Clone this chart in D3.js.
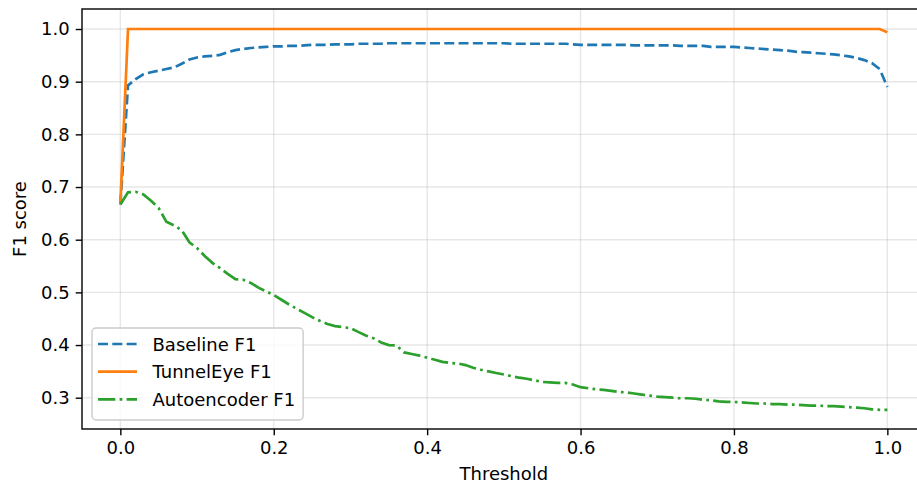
<!DOCTYPE html>
<html>
<head>
<meta charset="utf-8">
<script src="https://cdn.jsdelivr.net/npm/d3@7"></script>
<style>
  body { margin: 0; background: #fff; }
  svg { display: block; font-family: "DejaVu Sans", sans-serif; }
</style>
</head>
<body>
<div id="chart"></div>
<script>
// thresholds 0.00 .. 1.00
var thresholds = [
  0.00, 0.01, 0.02, 0.03, 0.04, 0.05, 0.06, 0.07, 0.08, 0.09,
  0.10, 0.11, 0.12, 0.13, 0.14, 0.15, 0.16, 0.17, 0.18, 0.19,
  0.20, 0.21, 0.22, 0.23, 0.24, 0.25, 0.26, 0.27, 0.28, 0.29,
  0.30, 0.31, 0.32, 0.33, 0.34, 0.35, 0.36, 0.37, 0.38, 0.39,
  0.40, 0.41, 0.42, 0.43, 0.44, 0.45, 0.46, 0.47, 0.48, 0.49,
  0.50, 0.51, 0.52, 0.53, 0.54, 0.55, 0.56, 0.57, 0.58, 0.59,
  0.60, 0.61, 0.62, 0.63, 0.64, 0.65, 0.66, 0.67, 0.68, 0.69,
  0.70, 0.71, 0.72, 0.73, 0.74, 0.75, 0.76, 0.77, 0.78, 0.79,
  0.80, 0.81, 0.82, 0.83, 0.84, 0.85, 0.86, 0.87, 0.88, 0.89,
  0.90, 0.91, 0.92, 0.93, 0.94, 0.95, 0.96, 0.97, 0.98, 0.99,
  1.00
];

var baselineF1 = [
  0.667, 0.893, 0.905, 0.914, 0.918, 0.921, 0.924, 0.927, 0.934, 0.942,
  0.946, 0.948, 0.949, 0.951, 0.956, 0.960, 0.962, 0.964, 0.965, 0.966,
  0.967, 0.967, 0.968, 0.968, 0.969, 0.970, 0.970, 0.970, 0.971, 0.971,
  0.971, 0.972, 0.972, 0.972, 0.972, 0.973, 0.973, 0.973, 0.973, 0.973,
  0.973, 0.973, 0.973, 0.973, 0.973, 0.973, 0.973, 0.973, 0.973, 0.973,
  0.973, 0.972, 0.972, 0.972, 0.972, 0.972, 0.972, 0.972, 0.972, 0.971,
  0.970, 0.970, 0.970, 0.970, 0.970, 0.970, 0.970, 0.969, 0.969, 0.969,
  0.969, 0.969, 0.969, 0.968, 0.968, 0.968, 0.968, 0.966, 0.966, 0.966,
  0.966, 0.965, 0.964, 0.963, 0.962, 0.961, 0.960, 0.959, 0.957, 0.956,
  0.955, 0.954, 0.953, 0.952, 0.950, 0.948, 0.945, 0.941, 0.935, 0.924,
  0.890
];

var tunnelEyeF1 = [
  0.667, 1.000, 1.000, 1.000, 1.000, 1.000, 1.000, 1.000, 1.000, 1.000,
  1.000, 1.000, 1.000, 1.000, 1.000, 1.000, 1.000, 1.000, 1.000, 1.000,
  1.000, 1.000, 1.000, 1.000, 1.000, 1.000, 1.000, 1.000, 1.000, 1.000,
  1.000, 1.000, 1.000, 1.000, 1.000, 1.000, 1.000, 1.000, 1.000, 1.000,
  1.000, 1.000, 1.000, 1.000, 1.000, 1.000, 1.000, 1.000, 1.000, 1.000,
  1.000, 1.000, 1.000, 1.000, 1.000, 1.000, 1.000, 1.000, 1.000, 1.000,
  1.000, 1.000, 1.000, 1.000, 1.000, 1.000, 1.000, 1.000, 1.000, 1.000,
  1.000, 1.000, 1.000, 1.000, 1.000, 1.000, 1.000, 1.000, 1.000, 1.000,
  1.000, 1.000, 1.000, 1.000, 1.000, 1.000, 1.000, 1.000, 1.000, 1.000,
  1.000, 1.000, 1.000, 1.000, 1.000, 1.000, 1.000, 1.000, 1.000, 1.000,
  0.994
];

var autoencoderF1 = [
  0.667, 0.690, 0.691, 0.686, 0.674, 0.660, 0.634, 0.627, 0.618, 0.595,
  0.584, 0.569, 0.556, 0.546, 0.535, 0.525, 0.524, 0.518, 0.509, 0.502,
  0.495, 0.486, 0.477, 0.469, 0.461, 0.453, 0.446, 0.440, 0.436, 0.434,
  0.432, 0.425, 0.418, 0.413, 0.405, 0.400, 0.399, 0.386, 0.383, 0.380,
  0.376, 0.372, 0.368, 0.366, 0.365, 0.362, 0.357, 0.353, 0.350, 0.347,
  0.344, 0.341, 0.338, 0.336, 0.333, 0.330, 0.329, 0.328, 0.328, 0.325,
  0.320, 0.318, 0.316, 0.315, 0.313, 0.311, 0.310, 0.308, 0.306, 0.304,
  0.302, 0.301, 0.300, 0.299, 0.299, 0.298, 0.296, 0.295, 0.293, 0.292,
  0.292, 0.291, 0.290, 0.289, 0.289, 0.288, 0.288, 0.287, 0.287, 0.286,
  0.285, 0.285, 0.284, 0.284, 0.283, 0.282, 0.281, 0.280, 0.278, 0.277,
  0.277
];

var xTicks = [0.0, 0.2, 0.4, 0.6, 0.8, 1.0];
var yTicks = [0.3, 0.4, 0.5, 0.6, 0.7, 0.8, 0.9, 1.0];

var seriesNames = ["Baseline F1", "TunnelEye F1", "Autoencoder F1"];
var seriesColors = ["#1f77b4", "#ff7f0e", "#2ca02c"];
var seriesDash = ["10,4.3", null, "17.3,4.3,2.7,4.3"];
var seriesValues = [baselineF1, tunnelEyeF1, autoencoderF1];

const W = 917, H = 485;
// axes box (right edge falls just outside the picture)
const ax = {left: 82, top: 9, bottom: 429, right: 925.7};
const fontSize = 18;

var x = d3.scaleLinear().domain([-0.05, 1.05]).range([ax.left, ax.right]);
var y = d3.scaleLinear().domain([0.2406, 1.038]).range([ax.bottom, ax.top]);

var svg = d3.select("#chart")
  .append("svg")
  .attr("width", W)
  .attr("height", H);

// grid
svg.append("g")
  .selectAll("line.vg")
  .data(xTicks)
  .enter().append("line")
  .attr("x1", d => x(d)).attr("x2", d => x(d))
  .attr("y1", ax.top).attr("y2", ax.bottom)
  .attr("stroke", "#b0b0b0").attr("stroke-opacity", 0.3).attr("stroke-width", 1.4);

svg.append("g")
  .selectAll("line.hg")
  .data(yTicks)
  .enter().append("line")
  .attr("x1", ax.left).attr("x2", ax.right)
  .attr("y1", d => y(d)).attr("y2", d => y(d))
  .attr("stroke", "#b0b0b0").attr("stroke-opacity", 0.3).attr("stroke-width", 1.4);

// lines
var line = d3.line()
  .x((d, i) => x(thresholds[i]))
  .y(d => y(d));

seriesValues.forEach(function(vals, k) {
  svg.append("path")
    .datum(vals)
    .attr("fill", "none")
    .attr("stroke", seriesColors[k])
    .attr("stroke-width", 2.7)
    .attr("stroke-dasharray", seriesDash[k])
    .attr("d", line);
});

// axes
var xAxis = d3.axisBottom(x).tickValues(xTicks).tickFormat(d3.format(".1f"))
  .tickSizeInner(6.3).tickSizeOuter(0).tickPadding(6);
var yAxis = d3.axisLeft(y).tickValues(yTicks).tickFormat(d3.format(".1f"))
  .tickSizeInner(6.3).tickSizeOuter(0).tickPadding(6);

var gx = svg.append("g").attr("transform", "translate(0," + ax.bottom + ")").call(xAxis);
var gy = svg.append("g").attr("transform", "translate(" + ax.left + ",0)").call(yAxis);

[gx, gy].forEach(function(g) {
  g.select(".domain").remove();
  g.selectAll(".tick line").attr("stroke", "#000").attr("stroke-width", 1.4);
  g.selectAll(".tick text").attr("fill", "#000")
    .style("font-size", fontSize + "px")
    .style("font-family", "DejaVu Sans, sans-serif");
});

// spines
svg.append("rect")
  .attr("x", ax.left).attr("y", ax.top)
  .attr("width", ax.right - ax.left).attr("height", ax.bottom - ax.top)
  .attr("fill", "none").attr("stroke", "#000").attr("stroke-width", 1.4);

// axis labels
svg.append("text")
  .attr("x", (ax.left + ax.right) / 2)
  .attr("y", 480)
  .attr("text-anchor", "middle")
  .style("font-size", fontSize + "px")
  .text("Threshold");

svg.append("text")
  .attr("transform", "translate(26," + ((ax.top + ax.bottom) / 2) + ") rotate(-90)")
  .attr("text-anchor", "middle")
  .style("font-size", fontSize + "px")
  .text("F1 score");

// legend
var leg = svg.append("g");
var legBox = leg.append("rect")
  .attr("x", 92).attr("y", 328)
  .attr("height", 92)
  .attr("rx", 4)
  .attr("fill", "#fff").attr("fill-opacity", 0.8)
  .attr("stroke", "#cccccc").attr("stroke-width", 1.4);

var rowY = [344, 371.7, 399.3];
var maxW = 0;
seriesNames.forEach(function(name, k) {
  leg.append("line")
    .attr("x1", 98).attr("x2", 137)
    .attr("y1", rowY[k]).attr("y2", rowY[k])
    .attr("stroke", seriesColors[k])
    .attr("stroke-width", 2.7)
    .attr("stroke-dasharray", seriesDash[k]);
  var t = leg.append("text")
    .attr("x", 152.5)
    .attr("y", rowY[k] + 6.5)
    .style("font-size", fontSize + "px")
    .text(name);
  maxW = Math.max(maxW, t.node().getComputedTextLength());
});
legBox.attr("width", 152.5 + maxW + 8 - 92);
</script>
</body>
</html>
